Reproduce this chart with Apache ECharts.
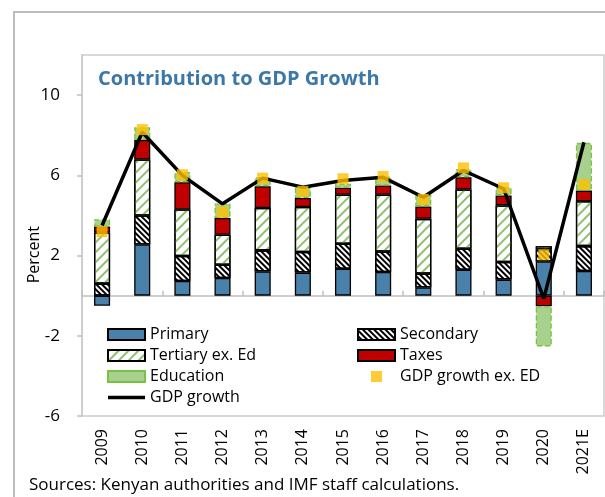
<!DOCTYPE html>
<html>
<head>
<meta charset="utf-8">
<script src="https://cdn.jsdelivr.net/npm/echarts@6/dist/echarts.min.js"></script>
<style>
  html, body { margin: 0; padding: 0; background: #fff; }
  #chart { width: 605px; height: 497px; }
</style>
</head>
<body>
<div id="chart"></div>
<script>
// categories
const years = ['2009', '2010', '2011', '2012', '2013', '2014', '2015', '2016', '2017', '2018', '2019', '2020', '2021E'];
// contributions, percentage points
const primary   = [-0.5, 2.55, 0.73, 0.88, 1.21, 1.15, 1.34, 1.18, 0.41, 1.29, 0.8, 1.7, 1.23];
const secondary = [0.6, 1.45, 1.25, 0.66, 1.05, 1.03, 1.25, 1.02, 0.69, 1.05, 0.88, 0.6, 1.24];
const tertiary  = [2.55, 2.79, 2.32, 1.5, 2.11, 2.24, 2.44, 2.83, 2.73, 2.95, 2.82, 0.17, 2.24];
const taxes     = [0.3, 0.98, 1.36, 0.83, 1.09, 0.45, 0.35, 0.46, 0.62, 0.62, 0.5, -0.53, 0.53];
const education = [0.36, 0.63, 0.5, 0.73, 0.45, 0.54, 0.2, 0.45, 0.58, 0.41, 0.41, -2.0, 2.38];
const gdpExEd   = [3.2, 8.28, 6.03, 4.17, 5.86, 5.2, 5.83, 5.94, 4.8, 6.37, 5.38, 2.04, 5.54];
const gdpGrowth = [3.5, 8.15, 6.0, 4.58, 5.86, 5.41, 5.74, 5.9, 4.91, 6.24, 5.33, -0.15, 7.65];
// y tick labels
const yTicks = [-6, -2, 2, 6, 10];

const font = 'Open Sans';
const chart = echarts.init(document.getElementById('chart'));

function bar(name, data, style) {
  return {
    name: name,
    type: 'bar',
    stack: 'contrib',
    data: data,
    barWidth: '40%',
    itemStyle: Object.assign({ borderColor: '#000', borderWidth: 1.3 }, style)
  };
}

const legendBase = {
  orient: 'vertical',
  top: 324,
  padding: 0,
  itemWidth: 37,
  itemHeight: 11,
  itemGap: 0,
  textStyle: { fontFamily: font, fontSize: 16, color: '#000', lineHeight: 21 }
};

chart.setOption({
  animation: false,
  textStyle: { fontFamily: font },
  title: {
    text: 'Contribution to GDP Growth',
    left: 93,
    top: 64,
    textStyle: { fontFamily: font, fontSize: 20, fontWeight: 'bold', color: '#3b78a9' }
  },
  grid: {
    left: 82, top: 55, right: 1, bottom: 81,
    show: true, borderColor: '#cbcbcb', borderWidth: 1.5
  },
  legend: [
    Object.assign({}, legendBase, {
      left: 107,
      data: [
        { name: 'Primary', icon: 'rect' },
        { name: 'Tertiary ex. Ed', icon: 'rect' },
        { name: 'Education', icon: 'rect' },
        { name: 'GDP growth', icon: 'path://M0,0L37,0L37,3.5L0,3.5Z' }
      ]
    }),
    Object.assign({}, legendBase, {
      left: 357,
      data: [
        { name: 'Secondary', icon: 'rect' },
        { name: 'Taxes', icon: 'rect' },
        { name: 'GDP growth ex. ED', icon: 'path://M0,0L10,0L10,10L0,10Z' }
      ]
    })
  ],
  xAxis: [
    {
      type: 'category',
      data: years,
      position: 'bottom',
      axisLine: { show: false, onZero: false },
      axisTick: { show: false },
      axisLabel: { rotate: 90, margin: 13, fontFamily: font, fontSize: 16, color: '#000' }
    },
    {
      type: 'category',
      data: years,
      position: 'top',
      axisLine: { onZero: true, lineStyle: { color: '#bfbfbf', width: 1.5 } },
      axisTick: { show: true, inside: false, length: 5, lineStyle: { color: '#bfbfbf', width: 1.5 } },
      axisLabel: { show: false }
    }
  ],
  yAxis: {
    type: 'value',
    min: -6,
    max: 12,
    splitLine: { show: false },
    axisLine: { show: true, lineStyle: { color: '#cbcbcb', width: 1.5 } },
    axisTick: { show: true, length: 5, customValues: yTicks, lineStyle: { color: '#bfbfbf', width: 1.5 } },
    axisLabel: { customValues: yTicks, margin: 22, fontFamily: font, fontSize: 17, color: '#000' }
  },
  graphic: [
    {
      type: 'rect', z: -10, silent: true,
      shape: { x: 14, y: 12, width: 640, height: 540 },
      style: { fill: 'none', stroke: '#bdbdbd', lineWidth: 2 }
    },
    {
      type: 'text', left: 26, top: 226, rotation: Math.PI / 2,
      style: { text: 'Percent', font: '16px "Open Sans"', fill: '#000' }
    },
    {
      type: 'text', left: 29, top: 477,
      style: { text: 'Sources: Kenyan authorities and IMF staff calculations.', font: '17px "Open Sans"', fill: '#000' }
    }
  ],
  series: [
    bar('Primary', primary, { color: '#4a81aa' }),
    bar('Secondary', secondary, {
      color: '#fff',
      decal: { symbol: 'rect', color: '#000', dashArrayX: [1, 0], dashArrayY: [2, 2], rotation: Math.PI / 4 }
    }),
    bar('Tertiary ex. Ed', tertiary, {
      color: '#fff',
      decal: { symbol: 'rect', color: '#8fc070', dashArrayX: [1, 0], dashArrayY: [1.5, 4.5], rotation: -Math.PI / 4 }
    }),
    bar('Taxes', taxes, { color: '#c00000' }),
    bar('Education', education, { color: '#a9d18e', borderColor: '#7cc242', borderType: 'dashed', borderWidth: 1.3 }),
    {
      name: 'GDP growth',
      type: 'line',
      data: gdpGrowth,
      symbol: 'none',
      z: 4,
      lineStyle: { color: '#000', width: 3.5 },
      itemStyle: { color: '#000' }
    },
    {
      name: 'GDP growth ex. ED',
      type: 'scatter',
      data: gdpExEd,
      symbol: 'rect',
      symbolSize: 11,
      z: 5,
      itemStyle: { color: '#ffc000' }
    }
  ]
});
</script>
</body>
</html>
